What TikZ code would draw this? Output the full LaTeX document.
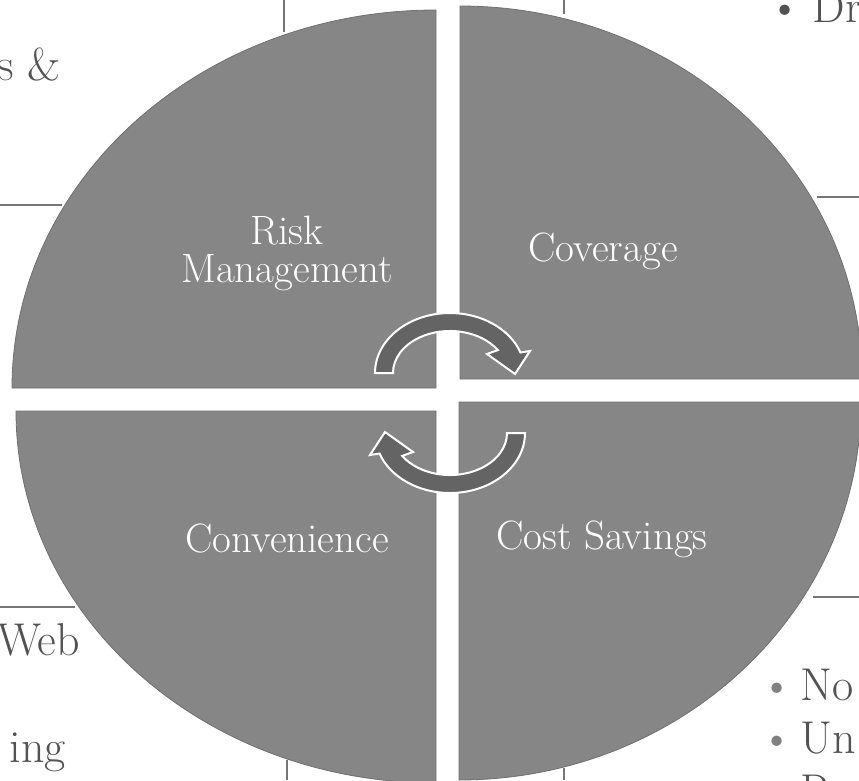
\documentclass[tikz,border=0pt]{standalone}
\definecolor{quad}{RGB}{134,134,134}
\definecolor{quadedge}{RGB}{112,112,112}
\definecolor{turnfill}{RGB}{100,100,100}
\definecolor{ink}{RGB}{82,82,82}
\definecolor{rule}{RGB}{118,118,118}
\tikzset{
  quarter/.style={fill=quad, draw=quadedge, line width=0.8pt},
  turn/.style={fill=turnfill, draw=white, line width=2pt, line join=miter},
  field/.style={text=white, font=\fontsize{41}{38}\selectfont, align=center, inner sep=0pt},
  side/.style={text=ink, font=\fontsize{46}{50}\selectfont, inner sep=0pt},
  grid/.style={draw=rule, line width=1.2pt},
  turnarrow/.pic={
    \path[turn] (393,373) -- (375,373)
      arc[start angle=180, end angle=340, x radius=75, y radius=60]
      -- (530,351) -- (515,374) -- (487,354) -- (497.8,350.1)
      arc[start angle=327, end angle=180, x radius=57, y radius=42] -- cycle;
  }
}
\begin{document}
\begin{tikzpicture}[x=1pt, y=-1pt]
    \useasboundingbox (0,0) rectangle (859,780);
    \clip (0,0) rectangle (859,780);

    % table rules behind the wheel
    \draw[grid] (284,0) -- (284,32);
    \draw[grid] (564,0) -- (564,14);
    \draw[grid] (0,205) -- (62,205);
    \draw[grid] (817,197) -- (859,197);
    \draw[grid] (0,607) -- (75,607);
    \draw[grid] (813,597) -- (859,597);
    \draw[grid] (287,760) -- (287,780);
    \draw[grid] (564,768) -- (564,780);

    % cut-off text round the wheel
    \node[side, anchor=base east] (amp) at (61,80) {s \&};
    \node[side, anchor=base east] (web) at (80,655) {Web};
    \node[side, anchor=base east] (ing) at (66,762) {ing};
    \node[side, anchor=base west] (dr) at (768,22) {\textbullet\hspace{0.25em}Dr};
    \node[side, anchor=base west] (no) at (760,700) {{\color{gray}\textbullet}\hspace{0.15em}No};
    \node[side, anchor=base west] (un) at (760,753) {{\color{gray}\textbullet}\hspace{0.15em}Un};
    \node[side, anchor=base west] (re) at (760,806) {{\color{gray}\textbullet}\hspace{0.15em}R};

    % the four quarters
    \path[quarter] (436,388) -- ++(-424,0)
      arc[start angle=180, end angle=270, x radius=424, y radius=378] -- cycle;
    \path[quarter] (460,379) -- ++(402,0)
      arc[start angle=0, end angle=-90, x radius=402, y radius=373] -- cycle;
    \path[quarter] (436,411) -- ++(-420,0)
      arc[start angle=180, end angle=90, x radius=420, y radius=372] -- cycle;
    \path[quarter] (459,402) -- ++(402,0)
      arc[start angle=0, end angle=90, x radius=402, y radius=378] -- cycle;

    \node[field] (risk) at (287,253) {Risk\\Management};
    \node[field, anchor=base] (cover) at (603,261) {Coverage};
    \node[field, anchor=base] (conv) at (287,552) {Convenience};
    \node[field, anchor=base] (cost) at (602,549) {Cost Savings};

    \pic at (0,0) {turnarrow};
    \pic[rotate=180] at (900,806) {turnarrow};
\end{tikzpicture}
\end{document}
